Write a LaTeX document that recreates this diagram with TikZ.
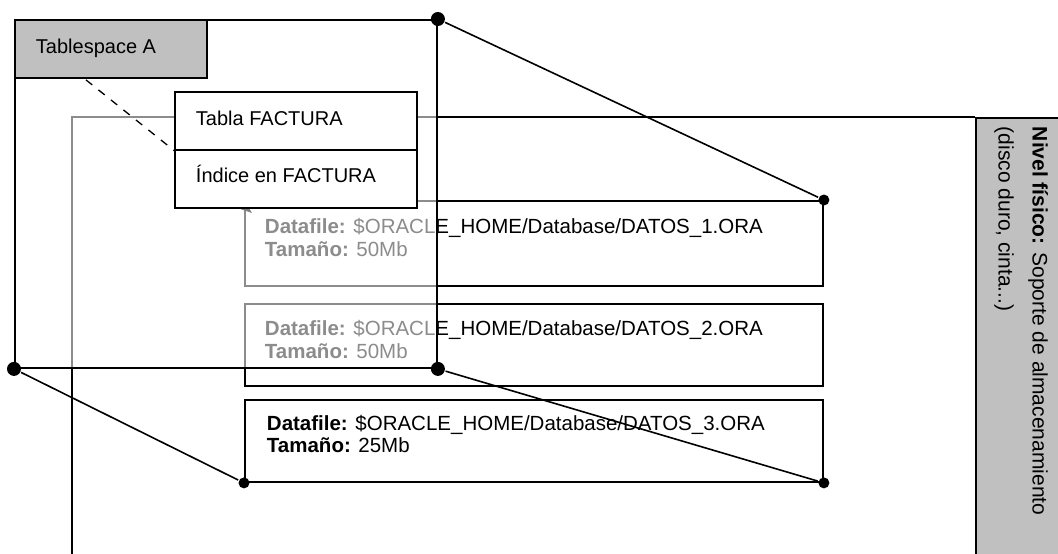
\documentclass[tikz,border=0pt]{standalone}
\usepackage{fontspec}
\setmainfont{Liberation Sans}
\usetikzlibrary{arrows.meta,calc}
\definecolor{lgray}{HTML}{C0C0C0}
\begin{document}
\begin{tikzpicture}[x=1pt,y=-1pt,line width=1.9pt,
  box/.style={draw, fill=white, inner sep=0pt, anchor=north west},
  txt/.style={font=\fontsize{20}{24}\selectfont, inner sep=0pt, anchor=base west},
  dftxt/.style={font=\fontsize{20.5}{24}\selectfont, inner sep=0pt, anchor=base west},
  bigdot/.style={circle, fill=black, inner sep=0pt, minimum size=14pt},
  smalldot/.style={circle, fill=black, inner sep=0pt, minimum size=11pt},
  conn/.style={line width=1.6pt}]
\useasboundingbox (0,0) rectangle (1058,554);

% physical level (big frame + grey side panel)
\node[box, fill=lgray, minimum width=95pt, minimum height=450pt] (fis) at (975,117) {};
\draw (72,560) |- (fis.north west);
\node[font=\fontsize{21}{34}\selectfont, inner sep=0pt, rotate=-90, anchor=north west, align=left] (fistxt) at (1049,126)
  {\textbf{Nivel físico:} Soporte de almacenamiento\\(disco duro, cinta...)};

% datafiles 1 and 2 (partly behind the tablespace)
\node[box, minimum width=578pt, minimum height=85pt] (df1) at (244,200) {};
\node[dftxt] (df1a) at (264,233) {\textbf{Datafile:} \$ORACLE\_HOME/Database/DATOS\_1.ORA};
\node[dftxt] (df1b) at (264,256) {\textbf{Tamaño:} 50Mb};
\node[box, minimum width=578pt, minimum height=82pt] (df2) at (244,303) {};
\node[dftxt] (df2a) at (264,335) {\textbf{Datafile:} \$ORACLE\_HOME/Database/DATOS\_2.ORA};
\node[dftxt] (df2b) at (264,358) {\textbf{Tamaño:} 50Mb};

% translucent tablespace overlay
\fill[white, opacity=0.55] (14,19) rectangle (436,367);

% tablespace frame
\node[box, fill=none, minimum width=422pt, minimum height=348pt] (ts) at (14,19) {};
\node[box, fill=lgray, minimum width=192pt, minimum height=58pt] (ta) at (14,19) {};
\node[txt] (tatxt) at (35,53) {Tablespace A};

% dashed link to datafile 1
\coordinate (dstart) at ($(ta.south west)+(72,1)$);
\coordinate (dend) at ($(df1.north west)+(8,13)$);
\draw[line width=1.3pt, dash pattern=on 8pt off 8pt, -{Stealth[length=11pt,width=8pt,color=gray]}] (dstart) -- (dend);

% table / index box
\node[box, minimum width=242pt, minimum height=116pt] (tab) at (174,91) {};
\draw (tab.west) -- (tab.east);
\node[txt] (tabtxt) at (195,125) {Tabla FACTURA};
\node[txt] (idxtxt) at (195,182) {Índice en FACTURA};

% datafile 3
\node[box, minimum width=578pt, minimum height=82pt] (df3) at (244,399) {};
\node[dftxt] (df3a) at (266,430) {\textbf{Datafile:} \$ORACLE\_HOME/Database/DATOS\_3.ORA};
\node[dftxt] (df3b) at (266,452) {\textbf{Tamaño:} 25Mb};

% projection dots and lines
\node[bigdot] (p1) at (ts.north east) {};
\node[bigdot] (p2) at (ts.south west) {};
\node[bigdot] (p3) at (ts.south east) {};
\node[smalldot] (q1) at (df1.north east) {};
\node[smalldot] (q2) at (df3.south west) {};
\node[smalldot] (q3) at (df3.south east) {};
\draw[conn] (p1) -- (q1);
\draw[conn] (p2) -- (q2);
\draw[conn] (p3) -- (q3);
\end{tikzpicture}
\end{document}
